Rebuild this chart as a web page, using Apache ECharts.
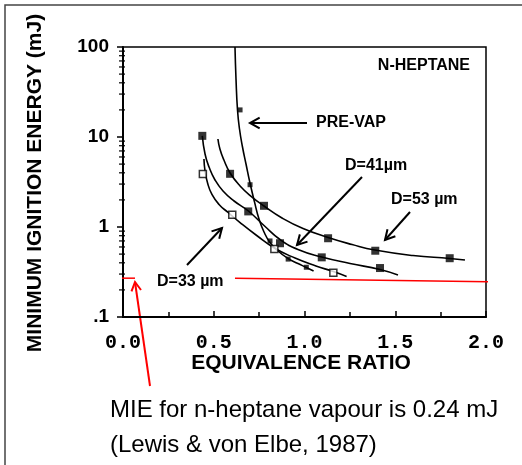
<!DOCTYPE html>
<html>
<head>
<meta charset="utf-8">
<script src="https://cdn.jsdelivr.net/npm/echarts@6/dist/echarts.min.js"></script>
<style>
  html, body { margin: 0; padding: 0; background: #fff; }
  #chart { width: 522px; height: 465px; }
</style>
</head>
<body>
<div id="chart"></div>
<script>
// curves drawn in the figure
var preVapCurve = [[0.617,100],[0.6226,44.1],[0.6309,19.95],[0.6419,12.27],[0.6584,7.74],[0.6777,5.01],[0.6997,3.08],[0.7245,1.90],[0.7493,1.227],[0.7769,0.88],[0.8099,0.673],[0.854,0.541],[0.909,0.447],[0.964,0.393],[1.01,0.355],[1.05,0.324]];
var d41Curve = [[0.437,10.3],[0.452,6.47],[0.474,4.64],[0.507,3.33],[0.551,2.51],[0.612,1.945],[0.691,1.506],[0.777,1.039],[0.865,0.726],[0.964,0.562],[1.095,0.464],[1.251,0.393],[1.416,0.337],[1.515,0.293]];
var d53Curve = [[0.523,9.5],[0.534,7.36],[0.556,5.55],[0.59,3.98],[0.645,2.86],[0.711,2.15],[0.777,1.71],[0.876,1.26],[0.992,0.962],[1.13,0.764],[1.262,0.639],[1.388,0.555],[1.598,0.482],[1.80,0.447],[1.884,0.43]];
var d33Curve = [[0.446,5.69],[0.452,4.19],[0.466,3.08],[0.490,2.30],[0.529,1.78],[0.579,1.45],[0.645,1.12],[0.733,0.815],[0.834,0.584],[0.948,0.452],[1.063,0.369],[1.159,0.320],[1.232,0.282]];

// measured points
var preVapPts = [[0.645,20],[0.70,2.95],[0.81,0.70],[0.91,0.44],[1.01,0.357]];
var d41Pts = [[0.437,10.3],[0.69,1.49],[0.865,0.66],[1.095,0.46],[1.416,0.35]];
var d53Pts = [[0.59,3.9],[0.777,1.72],[1.13,0.75],[1.39,0.545],[1.80,0.45]];
var d33Pts = [[0.44,3.88],[0.602,1.37],[0.834,0.57],[1.159,0.31]];

// hand drawn red MIE line (0.24 mJ)
var mieLeft = [[-0.10,0.27],[0.066,0.27]];
var mieRight = [[0.617,0.27],[2.12,0.245]];

var xTicks = ['0.0','0.5','1.0','1.5','2.0'];
var yTickLabels = {'0.1': '.1', '1': '1', '10': '10', '100': '100'};
var yMinor = [];
[0.1, 1, 10].forEach(function (d) {
    for (var k = 2; k <= 9; k++) yMinor.push([0, d * k]);
});

var chart = echarts.init(document.getElementById('chart'));

function curve(data) {
    return {
        type: 'line', data: data, symbol: 'none', smooth: 0.5,
        lineStyle: { color: '#000', width: 1.6 }, clip: false, z: 3
    };
}
function pts(data, size, open) {
    return {
        type: 'scatter', data: data, symbol: 'rect', symbolSize: size, clip: false, z: 4,
        itemStyle: { color: open ? '#fff' : '#000', borderColor: '#000', borderWidth: open ? 1.5 : 0 }
    };
}
function redLine(data) {
    return {
        type: 'line', data: data, symbol: 'none', clip: false, z: 5,
        lineStyle: { color: '#f00', width: 1.5 }
    };
}

// arrow helper, pixel annotations
function arrow(x1, y1, x2, y2, color, head) {
    var a = Math.atan2(y2 - y1, x2 - x1);
    var h = head || 11, w = 0.5;
    return {
        type: 'group', silent: true, z: 10,
        children: [
            { type: 'line', shape: { x1: x1, y1: y1, x2: x2, y2: y2 }, style: { stroke: color, lineWidth: 2 } },
            { type: 'polyline', shape: { points: [
                [x2 - h * Math.cos(a - w), y2 - h * Math.sin(a - w)],
                [x2, y2],
                [x2 - h * Math.cos(a + w), y2 - h * Math.sin(a + w)]
            ] }, style: { stroke: color, lineWidth: 2, fill: null } }
        ]
    };
}
function label(x, y, t, size, align) {
    return {
        type: 'text', x: x, y: y, z: 10, silent: true,
        style: {
            text: t, fill: '#000', font: 'bold ' + size + 'px "Liberation Sans", Arial, sans-serif',
            textAlign: align || 'left', textVerticalAlign: 'middle'
        }
    };
}

var option = {
    animation: false,
    backgroundColor: '#fff',
    grid: { left: 123, right: 36, top: 47, bottom: 148, show: true, borderColor: '#000', borderWidth: 1.5 },
    xAxis: {
        type: 'value', min: 0, max: 2, interval: 0.5,
        axisLine: { lineStyle: { color: '#000', width: 2 } },
        axisTick: { inside: true, length: 6, lineStyle: { color: '#000', width: 1.5 } },
        minorTick: { show: true, splitNumber: 2, length: 5, lineStyle: { color: '#000', width: 1.5 } },
        splitLine: { show: false },
        axisLabel: {
            margin: 16, color: '#000', fontSize: 20, fontWeight: 'bold',
            fontFamily: '"Liberation Mono", "DejaVu Sans Mono", monospace',
            formatter: function (v) { return xTicks[Math.round(v * 2)]; }
        }
    },
    yAxis: {
        type: 'log', logBase: 10, min: 0.1, max: 100,
        axisLine: { lineStyle: { color: '#000', width: 2 } },
        axisTick: { inside: false, length: 6, lineStyle: { color: '#000', width: 1.5 } },
        splitLine: { show: false },
        axisLabel: {
            margin: 14, color: '#000', fontSize: 19, fontWeight: 'bold',
            fontFamily: '"Liberation Sans", Arial, sans-serif',
            formatter: function (v) { return yTickLabels[String(+v.toPrecision(3))] || ''; }
        }
    },
    series: [
        curve(preVapCurve), curve(d41Curve), curve(d53Curve), curve(d33Curve),
        pts(preVapPts, 5, false), pts(d41Pts, 8, false), pts(d53Pts, 8, false), pts(d33Pts, 7, true),
        redLine(mieLeft), redLine(mieRight),
        {
            type: 'custom', data: yMinor, clip: false, z: 6, silent: true,
            encode: { x: 0, y: 1 },
            renderItem: function (params, api) {
                var p = api.coord([0, api.value(1)]);
                return { type: 'line', shape: { x1: p[0] - 4, y1: p[1], x2: p[0] + 2, y2: p[1] },
                         style: { stroke: '#000', lineWidth: 1.2 } };
            }
        }
    ],
    graphic: [
        { type: 'rect', shape: { x: 5, y: 5, width: 600, height: 600 }, style: { fill: null, stroke: '#444', lineWidth: 1.5 }, silent: true },
        label(35, 183, 'MINIMUM IGNITION ENERGY (mJ)', 21, 'center'),
        label(301, 363, 'EQUIVALENCE RATIO', 21, 'center'),
        label(470, 66, 'N-HEPTANE', 16, 'right'),
        label(316, 123, 'PRE-VAP', 16, 'left'),
        label(345, 166, 'D=41\u00b5m', 16, 'left'),
        label(391, 200, 'D=53 \u00b5m', 16, 'left'),
        label(157, 282, 'D=33 \u00b5m', 16, 'left'),
        {
            type: 'text', x: 110, y: 410, z: 10, silent: true,
            style: { text: 'MIE for n-heptane vapour is 0.24 mJ', fill: '#000',
                     font: '24px "Liberation Sans", Arial, sans-serif', textVerticalAlign: 'middle' }
        },
        {
            type: 'text', x: 110, y: 445, z: 10, silent: true,
            style: { text: '(Lewis & von Elbe, 1987)', fill: '#000',
                     font: '24px "Liberation Sans", Arial, sans-serif', textVerticalAlign: 'middle' }
        },
        arrow(307, 123, 250, 123, '#000'),
        arrow(362, 177, 297, 245, '#000'),
        arrow(410, 212, 385, 240, '#000'),
        arrow(187, 265, 222, 228, '#000'),
        arrow(150, 386, 135, 282, '#f00', 10)
    ]
};
// rotate the y axis title
option.graphic[1].rotation = Math.PI / 2;

chart.setOption(option);
</script>
</body>
</html>
